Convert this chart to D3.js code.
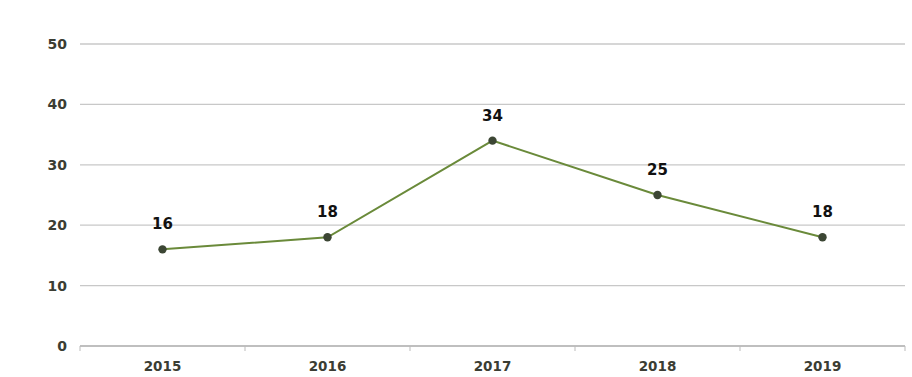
<!DOCTYPE html>
<html>
<head>
<meta charset="utf-8">
<script src="https://cdn.jsdelivr.net/npm/d3@7"></script>
<style>
  body { margin: 0; background: #fff; }
  svg { display: block; font-family: "DejaVu Sans", sans-serif; }
</style>
</head>
<body>
<svg id="chart"></svg>
<script>
const years = ["2015", "2016", "2017", "2018", "2019"];
const values = [16, 18, 34, 25, 18];
const yTicks = [0, 10, 20, 30, 40, 50];

const width = 912, height = 377;
const margin = { top: 44, right: 7, bottom: 31, left: 80 };
const innerW = width - margin.left - margin.right;
const innerH = height - margin.top - margin.bottom;

const svg = d3.select("#chart").attr("width", width).attr("height", height);
const g = svg.append("g").attr("transform", `translate(${margin.left},${margin.top})`);

const x = d3.scaleBand().domain(years).range([0, innerW]);
const y = d3.scaleLinear().domain([0, 50]).range([innerH, 0]);

// gridlines
g.selectAll(".grid").data(yTicks.filter(d => d > 0)).enter()
  .append("line")
  .attr("x1", 0).attr("x2", innerW)
  .attr("y1", d => y(d)).attr("y2", d => y(d))
  .attr("stroke", "#c8c8c8").attr("stroke-width", 1.3);

// y labels
g.selectAll(".ylab").data(yTicks).enter()
  .append("text")
  .attr("x", -13).attr("y", d => y(d)).attr("dy", "0.36em")
  .attr("text-anchor", "end")
  .attr("font-size", 14).attr("font-weight", "bold").attr("fill", "#3b3d33")
  .text(d => d);

// x axis
const xAxis = g.append("g").attr("transform", `translate(0,${innerH})`);
xAxis.append("line").attr("x1", 0).attr("x2", innerW)
  .attr("stroke", "#aaa").attr("stroke-width", 1.3);
const bounds = years.map(d => x(d)).concat([innerW]);
xAxis.selectAll(".tick").data(bounds).enter()
  .append("line")
  .attr("x1", d => d).attr("x2", d => d)
  .attr("y1", 0).attr("y2", 5)
  .attr("stroke", "#bbb");
xAxis.selectAll(".xlab").data(years).enter()
  .append("text")
  .attr("x", d => x(d) + x.bandwidth() / 2).attr("y", 25)
  .attr("text-anchor", "middle")
  .attr("font-size", 13.5).attr("font-weight", "bold").attr("fill", "#3b3d33")
  .text(d => d);

// line
const pts = years.map((d, i) => ({ year: d, v: values[i] }));
const line = d3.line().x(d => x(d.year) + x.bandwidth() / 2).y(d => y(d.v));
g.append("path").datum(pts)
  .attr("fill", "none").attr("stroke", "#6a8a3a").attr("stroke-width", 2)
  .attr("d", line);

g.selectAll(".pt").data(pts).enter()
  .append("circle")
  .attr("cx", d => x(d.year) + x.bandwidth() / 2).attr("cy", d => y(d.v))
  .attr("r", 4.2).attr("fill", "#3c4634");

// value labels
g.selectAll(".vlab").data(pts).enter()
  .append("text")
  .attr("x", d => x(d.year) + x.bandwidth() / 2).attr("y", d => y(d.v) - 20)
  .attr("text-anchor", "middle")
  .attr("font-size", 15).attr("font-weight", "bold").attr("fill", "#111")
  .text(d => d.v);
</script>
</body>
</html>
